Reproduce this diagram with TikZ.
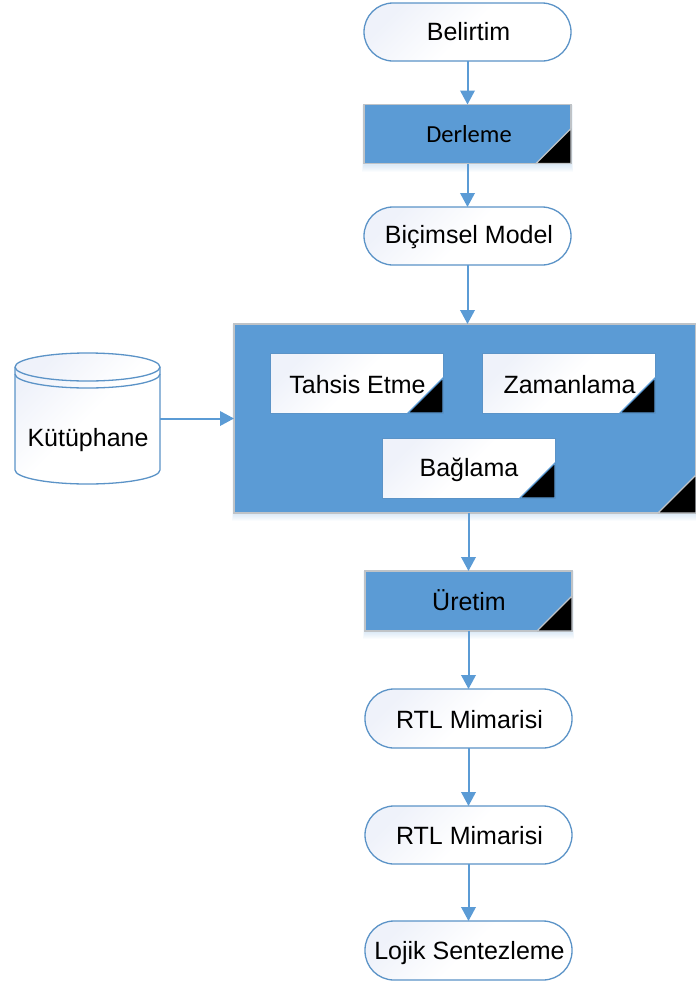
\documentclass[tikz,border=0pt]{standalone}
\usepackage{fontspec}
\setmainfont{Liberation Sans}
\newfontfamily\carl{Carlito}
\usetikzlibrary{arrows.meta,backgrounds}
\definecolor{blu}{HTML}{5B9BD5}
\definecolor{edgeb}{HTML}{5B93C7}
\definecolor{edgeg}{HTML}{BFC3C7}
\definecolor{tint}{HTML}{EFF2FA}
\definecolor{shcol}{HTML}{5B9BD5}
\tikzset{
  txt/.style={font=\fontsize{25}{29}\selectfont,text=black},
  soft/.style={top color=tint,bottom color=white,middle color=white,shading angle=45},
  termbox/.style={txt,draw=edgeb,line width=1.3pt,soft,rounded corners=29pt,minimum width=207pt,minimum height=58pt,inner sep=0pt,outer sep=0pt},
  bluebox/.style={txt,draw=edgeg,line width=1.3pt,fill=blu,minimum width=207pt,minimum height=59pt,inner sep=0pt,outer sep=0pt},
  whitebox/.style={txt,draw=edgeb,line width=1pt,soft,minimum width=173pt,minimum height=60pt,inner sep=0pt,outer sep=0pt},
  link/.style={draw=blu,line width=2pt,-{Triangle[length=14pt,width=14.5pt]}},
  corner/.style={fill=black,draw=#1,line width=1.2pt,line join=miter}
}
\newcommand{\cornermark}[3]{\filldraw[corner=#2] (#1.south east) -- ++(-#3,0) -- ++(#3,-#3) -- cycle;}
\newcommand{\softshadow}[1]{\foreach \d in {1,2,...,7}{\fill[shcol,opacity=.03] ([xshift=-.3*\d pt]#1.north west) rectangle ([xshift=.3*\d pt,yshift=-\d pt-1pt]#1.south east);}}
\begin{document}
\begin{tikzpicture}[x=1pt,y=-1pt]
\useasboundingbox (0,0) rectangle (696,983);
\node[termbox] (belirtim) at (467.5,32) {};
\node[txt] at (468.5,32) {Belirtim};
\node[bluebox] (derleme) at (467.5,134) {};
\node[txt] at (469,134) {\carl\fontsize{24.5}{28}\selectfont Derleme};
\node[termbox] (bicim) at (467.5,236) {};
\node[txt] at (469,237) {Biçimsel Model};
\node[bluebox,minimum width=462pt,minimum height=189pt] (big) at (465,418.5) {};
\node[whitebox] (tahsis) at (356.5,383) {};
\node[txt] at (357.5,385) {Tahsis Etme};
\node[whitebox] (zaman) at (568.5,383) {};
\node[txt] at (569.5,385) {Zamanlama};
\node[whitebox] (bag) at (468.5,468) {};
\node[txt] at (469,470) {Bağlama};
\node[bluebox,minimum height=60pt] (uretim) at (468.5,601) {};
\node[txt] at (469,600.5) {Üretim};
\node[termbox,minimum height=59pt] (rtla) at (468.5,718.5) {};
\node[txt] at (469.5,720) {RTL Mimarisi};
\node[termbox] (rtlb) at (468.5,835) {};
\node[txt] at (469.5,836) {RTL Mimarisi};
\node[termbox,minimum height=59pt] (lojik) at (468.5,950.5) {};
\node[txt] at (469.5,953.5) {Lojik Sentezleme};
\node[minimum width=145pt,minimum height=131pt,inner sep=0pt,outer sep=0pt] (lib) at (87.5,418.5) {};
% cylinder
\path[soft] (lib.west |- 0,367) -- (lib.west |- 0,470) arc[start angle=180,end angle=360,x radius=72.5pt,y radius=14pt] -- (lib.east |- 0,367) arc[start angle=0,end angle=180,x radius=72.5pt,y radius=14pt] -- cycle;
\draw[draw=edgeb,line width=1.3pt] (lib.west |- 0,367) -- (lib.west |- 0,470) arc[start angle=180,end angle=360,x radius=72.5pt,y radius=14pt] -- (lib.east |- 0,367);
\draw[draw=edgeb,line width=1.3pt] (lib.west |- 0,367) arc[start angle=180,end angle=-180,x radius=72.5pt,y radius=14pt];
\draw[draw=edgeb,line width=1.3pt] (lib.west |- 0,374) arc[start angle=180,end angle=360,x radius=72.5pt,y radius=14pt];
\node[txt] (libtext) at (88,440.5) {Kütüphane};
% corners
\cornermark{derleme}{edgeg}{35}
\cornermark{uretim}{edgeg}{35}
\cornermark{big}{edgeg}{38}
\cornermark{tahsis}{blu}{35}
\cornermark{zaman}{blu}{35}
\cornermark{bag}{blu}{35}
% connectors
\draw[link] (belirtim.south) -- (derleme.north);
\draw[link] (derleme.south) -- (bicim.north);
\draw[link] (bicim.south) -- (bicim.south |- big.north);
\draw[link] (lib.east) -- (big.west);
\draw[link] (uretim.north |- big.south) -- (uretim.north);
\draw[link] (uretim.south) -- (rtla.north);
\draw[link] (rtla.south) -- (rtlb.north);
\draw[link] (rtlb.south) -- (lojik.north);
\begin{scope}[on background layer]
\softshadow{derleme}
\softshadow{big}
\softshadow{uretim}
\end{scope}
\end{tikzpicture}
\end{document}
